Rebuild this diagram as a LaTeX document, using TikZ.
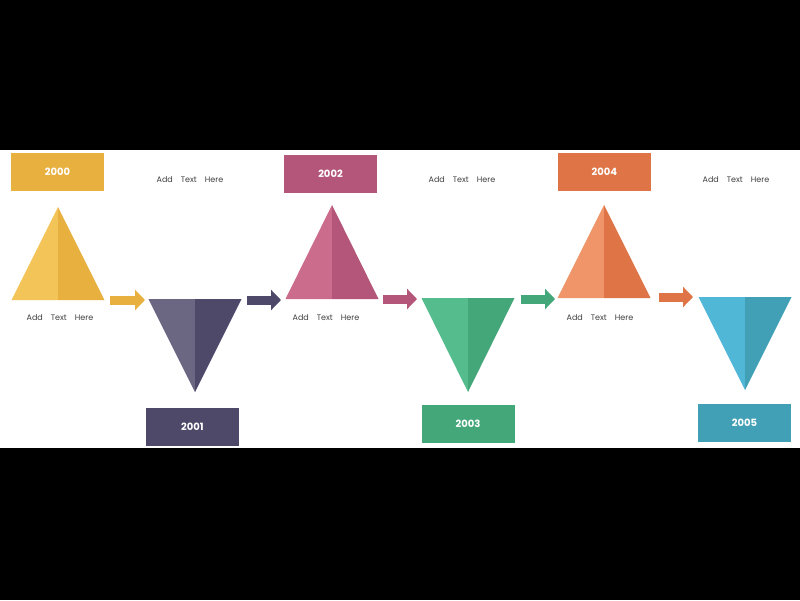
\documentclass[tikz,border=0pt]{standalone}
\usepackage{fontspec}
\setmainfont{Poppins}
\begin{document}
\begin{tikzpicture}[x=1pt,y=-1pt,
  box/.style={minimum width=93pt,minimum height=38pt,inner sep=0pt,text=white,font=\fontsize{10}{12}\selectfont\bfseries},
  lbl/.style={font=\fontsize{8}{10}\selectfont,text=black!75},
  arr/.style={line width=9pt,-{Triangle[length=10pt,width=20pt]}, shorten >=0pt}]
\usetikzlibrary{arrows.meta}
\fill[black] (0,0) rectangle (800,600);
\fill[white] (0,150) rectangle (800,448);
% colours
\definecolor{yA}{HTML}{F3C558}\definecolor{yB}{HTML}{E8B03F}
\definecolor{pA}{HTML}{6B6682}\definecolor{pB}{HTML}{4E4969}
\definecolor{rA}{HTML}{CB6C8C}\definecolor{rB}{HTML}{B4567A}
\definecolor{gA}{HTML}{55BC8E}\definecolor{gB}{HTML}{44A77A}
\definecolor{oA}{HTML}{EF9569}\definecolor{oB}{HTML}{DF7447}
\definecolor{bA}{HTML}{50B8D6}\definecolor{bB}{HTML}{41A0B6}
% up triangles
\newcommand{\uptri}[5]{% apex x, apex y, base y, colA, colB
  \fill[#4] (#1,#2) -- (#1-46.5,#3) -- (#1,#3) -- cycle;
  \fill[#5] (#1,#2) -- (#1+46.5,#3) -- (#1,#3) -- cycle;}
\newcommand{\dntri}[5]{% apex x, top y, apex y
  \fill[#4] (#1,#3) -- (#1-46.5,#2) -- (#1,#2) -- cycle;
  \fill[#5] (#1,#3) -- (#1+46.5,#2) -- (#1,#2) -- cycle;}
\uptri{58}{207}{300}{yA}{yB}
\dntri{195}{299}{392}{pA}{pB}
\uptri{332}{205}{299}{rA}{rB}
\dntri{468}{298}{392}{gA}{gB}
\uptri{604}{205}{298}{oA}{oB}
\dntri{745}{297}{390}{bA}{bB}
% boxes
\node[box,fill=yB] (b0) at (57.5,171.5) {2000};
\node[box,fill=pB] (b1) at (192.5,427) {2001};
\node[box,fill=rB] (b2) at (330.5,174) {2002};
\node[box,fill=gB] (b3) at (468,424) {2003};
\node[box,fill=oB] (b4) at (604.5,172) {2004};
\node[box,fill=bB] (b5) at (744.5,423) {2005};
% labels
\node[lbl] (t0) at (60,318) {Add\quad Text\quad Here};
\node[lbl] (t1) at (190,180) {Add\quad Text\quad Here};
\node[lbl] (t2) at (326,318) {Add\quad Text\quad Here};
\node[lbl] (t3) at (462,180) {Add\quad Text\quad Here};
\node[lbl] (t4) at (600,318) {Add\quad Text\quad Here};
\node[lbl] (t5) at (736,180) {Add\quad Text\quad Here};
% arrows
\coordinate (a0s) at (110,300); \coordinate (a0e) at (145,300);
\coordinate (a1s) at (247,300); \coordinate (a1e) at (281,300);
\coordinate (a2s) at (383,299); \coordinate (a2e) at (417,299);
\coordinate (a3s) at (521,299); \coordinate (a3e) at (555,299);
\coordinate (a4s) at (659,297); \coordinate (a4e) at (693,297);
\draw[arr,yB] (a0s) -- (a0e);
\draw[arr,pB] (a1s) -- (a1e);
\draw[arr,rB] (a2s) -- (a2e);
\draw[arr,gB] (a3s) -- (a3e);
\draw[arr,oB] (a4s) -- (a4e);
\end{tikzpicture}
\end{document}
